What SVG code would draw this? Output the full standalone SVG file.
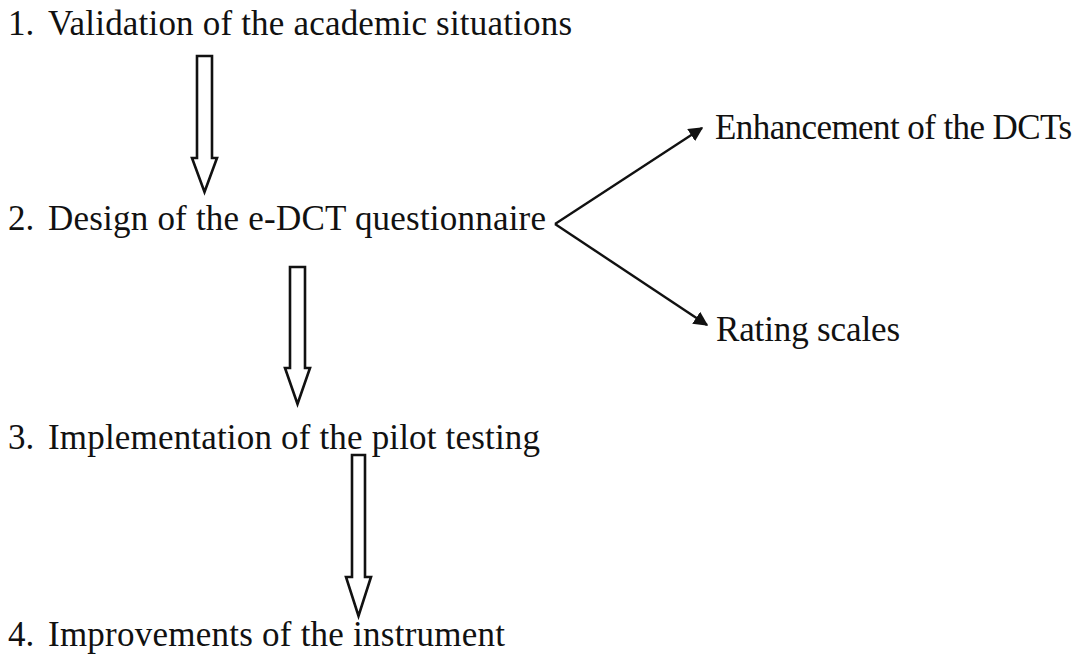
<svg xmlns="http://www.w3.org/2000/svg" width="1086" height="654" viewBox="0 0 1086 654">
<style>
.t{font-family:"Liberation Serif","Times New Roman",serif;font-size:35px;fill:#111}
.blk{fill:#fff;stroke:#111;stroke-width:2.6;stroke-linejoin:miter}
.ln{stroke:#111;stroke-width:2.4;fill:none}
</style>
<defs>
<marker id="ah" viewBox="0 0 10 10" refX="9" refY="5" markerWidth="6" markerHeight="6" markerUnits="strokeWidth" orient="auto">
<path d="M0,0 L10,5 L0,10 Z" fill="#111"/>
</marker>
</defs>
<rect width="1086" height="654" fill="#fff"/>
<g id="step1"><text class="t" x="8" y="35">1.</text><text class="t" x="48" y="35" textLength="524">Validation of the academic situations</text></g>
<g id="step2"><text class="t" x="8" y="230">2.</text><text class="t" x="48" y="230" textLength="498">Design of the e-DCT questionnaire</text></g>
<g id="step3"><text class="t" x="8" y="449">3.</text><text class="t" x="48" y="449" textLength="492">Implementation of the pilot testing</text></g>
<g id="step4"><text class="t" x="8" y="646">4.</text><text class="t" x="48" y="646" textLength="457">Improvements of the instrument</text></g>
<g id="enh"><text class="t" x="715" y="139" textLength="357">Enhancement of the DCTs</text></g>
<g id="rating"><text class="t" x="716" y="341" textLength="184">Rating scales</text></g>
<g id="connectors">
<polygon class="blk" points="197,56 212,56 212,158 217,158 204.5,192 192,158 197,158"/>
<polygon class="blk" points="290,267 305,267 305,368 310,368 297.5,404 285,368 290,368"/>
<polygon class="blk" points="352,455 365,455 365,577 371,577 358.5,616 346,577 352,577"/>
<line class="ln" x1="555" y1="224" x2="702" y2="128" marker-end="url(#ah)"/>
<line class="ln" x1="555" y1="224" x2="707" y2="325" marker-end="url(#ah)"/>
</g>
</svg>
